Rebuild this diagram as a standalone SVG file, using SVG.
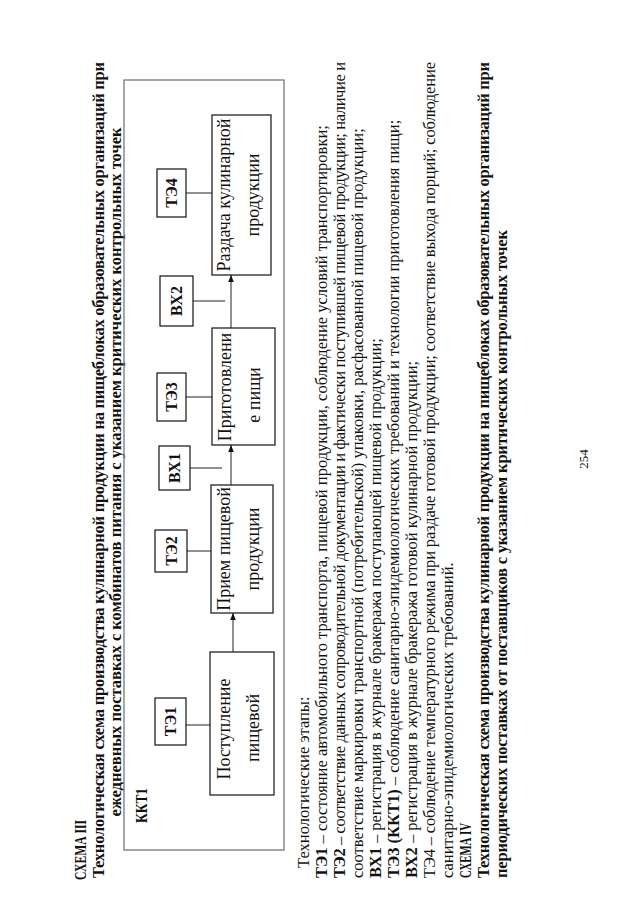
<svg xmlns="http://www.w3.org/2000/svg" width="640" height="905" viewBox="0 0 640 905">
<style>
.t{font-family:"Liberation Serif","Times New Roman",serif;font-size:16.5px;fill:#111}
.b{font-weight:bold}
.h{font-family:"Liberation Serif","Times New Roman",serif;font-size:17px;font-weight:bold;fill:#111}
.n{font-family:"Liberation Serif","Times New Roman",serif;font-size:18px;fill:#111;text-anchor:middle}
.l{font-family:"Liberation Serif","Times New Roman",serif;font-size:16px;font-weight:bold;fill:#111;text-anchor:middle}
.box{fill:#fff;stroke:#111;stroke-width:1.2}
.frame{fill:none;stroke:#777;stroke-width:1.3}
.c{stroke:#222;stroke-width:1;fill:none}
.pg{font-family:"Liberation Serif","Times New Roman",serif;font-size:13px;fill:#111;text-anchor:middle}
</style>
<defs>
<marker id="ah" viewBox="0 0 10 10" refX="10" refY="5" markerWidth="7" markerHeight="7" orient="auto" markerUnits="userSpaceOnUse">
<path d="M0,1 L10,5 L0,9 Z" fill="#111"/>
</marker>
</defs>
<rect x="0" y="0" width="640" height="905" fill="#fff"/>
<g transform="translate(0,905) rotate(-90)">
<g id="header">
<text class="h" x="25" y="86" textLength="60" lengthAdjust="spacingAndGlyphs">СХЕМА III</text>
<text class="t b" x="27" y="104" textLength="816" lengthAdjust="spacing">Технологическая схема производства кулинарной продукции на пищеблоках образовательных организаций при</text>
<text class="t b" x="433" y="121" text-anchor="middle">ежедневных поставках с комбинатов питания с указанием критических контрольных точек</text>
</g>
<g id="frame">
<rect class="frame" x="55" y="124" width="770" height="160"/>
<text class="h" x="82" y="147" textLength="35" lengthAdjust="spacingAndGlyphs">ККТ1</text>
</g>
<g id="connectors">
<line class="c" x1="253" y1="233" x2="292" y2="233" marker-end="url(#ah)"/>
<line class="c" x1="420" y1="231" x2="460" y2="231" marker-end="url(#ah)"/>
<line class="c" x1="577" y1="231" x2="630" y2="231" marker-end="url(#ah)"/>
<line class="c" x1="180" y1="186" x2="180" y2="210"/>
<line class="c" x1="354" y1="187" x2="354" y2="211"/>
<line class="c" x1="437" y1="190" x2="437" y2="222"/>
<line class="c" x1="508" y1="186" x2="508" y2="212"/>
<line class="c" x1="604" y1="193" x2="604" y2="225"/>
<line class="c" x1="712" y1="186" x2="712" y2="212"/>
</g>
<g id="te1"><rect class="box" x="160" y="155" width="47" height="31"/><text class="l" x="183.5" y="176">ТЭ1</text></g>
<g id="postuplenie"><rect class="box" x="110" y="210" width="143" height="64"/><text class="n" x="176" y="230">Поступление</text><text class="n" x="177" y="259">пищевой</text></g>
<g id="te2"><rect class="box" x="333" y="155" width="42" height="32"/><text class="l" x="354" y="177">ТЭ2</text></g>
<g id="priem"><rect class="box" x="292" y="211" width="128" height="62"/><text class="n" x="356" y="230">Прием пищевой</text><text class="n" x="356" y="259">продукции</text></g>
<g id="vh1"><rect class="box" x="415" y="159" width="44" height="31"/><text class="l" x="437" y="180">ВХ1</text></g>
<g id="te3"><rect class="box" x="484" y="157" width="48" height="29"/><text class="l" x="508" y="177">ТЭ3</text></g>
<g id="prigotovlenie"><rect class="box" x="460" y="212" width="117" height="63"/><text class="n" x="518" y="231">Приготовлени</text><text class="n" x="510" y="260">е пищи</text></g>
<g id="vh2"><rect class="box" x="579" y="160" width="50" height="33"/><text class="l" x="604" y="182">ВХ2</text></g>
<g id="te4"><rect class="box" x="688" y="157" width="48" height="29"/><text class="l" x="712" y="177">ТЭ4</text></g>
<g id="razdacha"><rect class="box" x="630" y="212" width="160" height="59"/><text class="n" x="710" y="230">Раздача кулинарной</text><text class="n" x="710" y="259">продукции</text></g>
<g id="legend">
<text class="t" x="37" y="309">Технологические этапы:</text>
<text class="t" x="27" y="327"><tspan class="b">ТЭ1</tspan> – состояние автомобильного транспорта, пищевой продукции, соблюдение условий транспортировки;</text>
<text class="t" x="27" y="345" textLength="816" lengthAdjust="spacing"><tspan class="b">ТЭ2</tspan> – соответствие данных сопроводительной документации и фактически поступившей пищевой продукции; наличие и</text>
<text class="t" x="27" y="363">соответствие маркировки транспортной (потребительской) упаковки, расфасованной пищевой продукции;</text>
<text class="t" x="27" y="381"><tspan class="b">ВХ1</tspan> – регистрация в журнале бракеража поступающей пищевой продукции;</text>
<text class="t" x="27" y="399"><tspan class="b">ТЭ3 (ККТ1)</tspan> – соблюдение санитарно-эпидемиологических требований и технологии приготовления пищи;</text>
<text class="t" x="27" y="417"><tspan class="b">ВХ2</tspan> – регистрация в журнале бракеража готовой кулинарной продукции;</text>
<text class="t" x="27" y="435" textLength="816" lengthAdjust="spacing">ТЭ4 – соблюдение температурного режима при раздаче готовой продукции; соответствие выхода порций; соблюдение</text>
<text class="t" x="27" y="453">санитарно-эпидемиологических требований.</text>
<text class="h" x="27" y="471" textLength="55" lengthAdjust="spacingAndGlyphs">СХЕМА IV</text>
<text class="t b" x="27" y="489" textLength="816" lengthAdjust="spacing">Технологическая схема производства кулинарной продукции на пищеблоках образовательных организаций при</text>
<text class="t b" x="27" y="507" textLength="648" lengthAdjust="spacing">периодических поставках от поставщиков с указанием критических контрольных точек</text>
</g>
<text class="pg" x="446" y="588">254</text>
</g>
</svg>
